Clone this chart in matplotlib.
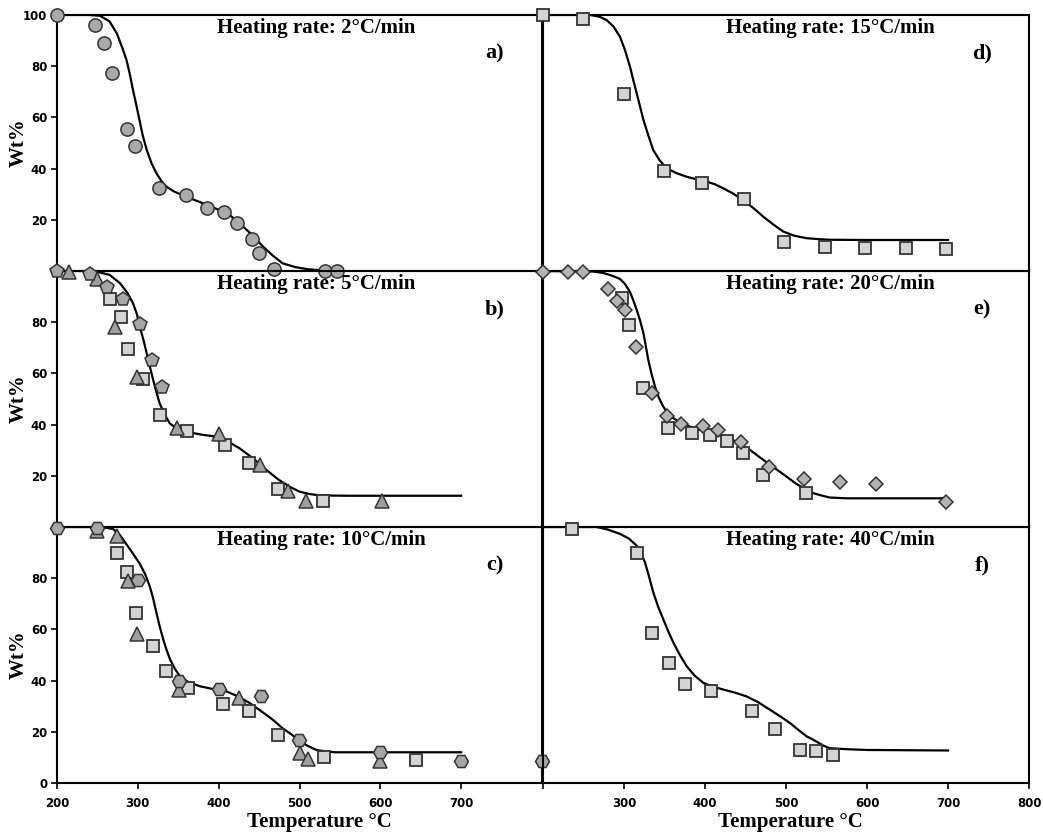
import matplotlib
matplotlib.use("Agg")
import matplotlib.pyplot as plt

# ---- a) 2 C/min ----
a_circ_x = [200, 247, 258, 268, 286, 297, 326, 360, 386, 406, 423, 441, 450, 469, 531, 546]
a_circ_y = [100, 96, 89, 77.5, 55.5, 49, 32.3, 29.8, 24.7, 23.2, 18.9, 12.6, 6.9, 0.9, 0, 0]
a_fit_x = [200, 240, 253, 265, 274, 281, 286, 290, 294, 298, 302, 306, 311, 317, 323, 329, 335, 345,
           360, 380, 401, 415, 426, 440, 455, 467, 479, 495, 510, 521, 535]
a_fit_y = [100, 100, 99.7, 97.5, 92.8, 87, 82.4, 77, 70.7, 65, 59, 53, 47.3, 42, 38.2, 35.2, 33, 31,
           29, 26.5, 23.8, 21.5, 18.6, 14.5, 9.5, 6, 3, 1.5, 0.7, 0.4, 0.2]

# ---- b) 5 C/min ----
b_pent_x = [200, 241, 262, 282, 303, 318, 330.5]
b_pent_y = [100, 98.8, 93.9, 88.9, 79.2, 65.2, 54.8]
b_tri_x = [215, 250, 271.6, 299, 348.5, 400, 450.6, 486, 508, 602]
b_tri_y = [99.7, 96.7, 78.2, 58.7, 38.5, 36.3, 24.2, 14.2, 10.3, 10.3]
b_sq_x = [265, 278.6, 288, 306.5, 328, 361, 408, 437, 473, 529.6]
b_sq_y = [88.9, 81.9, 69.5, 57.7, 43.9, 37.6, 32, 24.9, 14.7, 10.3]
b_fit_x = [200, 245, 265, 278, 287, 294, 299, 302.5, 307, 311, 315, 319, 323, 327, 333, 339.5, 348,
           360, 380, 397, 412, 426, 443, 459, 474, 488, 500, 512, 521, 535, 560, 600, 700]
b_fit_y = [100, 100, 98.5, 95.2, 91.5, 87.4, 83, 78.2, 73, 67.8, 62.5, 57.4, 52.7, 48.3, 44, 40.5, 38.5,
           37.2, 36, 35.3, 33.3, 30.7, 26.7, 22.3, 18.5, 15.7, 13.8, 12.9, 12.5, 12.3, 12.2, 12.2, 12.2]

# ---- c) 10 C/min ----
c_hex_x = [200, 250, 300, 350.6, 400, 452, 499, 600, 700, 800]
c_hex_y = [99.5, 99.5, 79.2, 39.7, 36.9, 33.8, 16.9, 12.3, 8.7, 8.7]
c_tri_x = [250, 274, 288, 299, 350.6, 425, 500, 510, 600]
c_tri_y = [98.5, 96.6, 79, 58.3, 36.2, 33.2, 11.6, 9.3, 8.7]
c_sq_x = [274.5, 287, 297.5, 319, 335, 362, 405, 438, 473, 530, 644]
c_sq_y = [89.7, 82.6, 66.5, 53.5, 43.9, 37.1, 30.9, 28.2, 18.8, 10.1, 9]
c_fit_x = [200, 255, 269.5, 278, 286, 294, 302.5, 309, 315, 319, 323, 327, 331.5, 335.5, 340, 346, 352,
           362, 376.5, 393, 409.5, 424, 438, 452, 467, 479, 490, 500, 510, 521, 533, 545, 600, 700]
c_fit_y = [100, 100, 99.2, 96.8, 93.2, 89.6, 85.6, 81.6, 76.6, 72, 66.5, 61.2, 56, 52, 48.2, 44.5, 41.7,
           39.5, 37.8, 36.7, 35.8, 33.8, 31.3, 28.2, 24.7, 21.4, 19, 16.5, 14.5, 12.9, 12.3, 12, 12, 12]

# ---- d) 15 C/min ----
d_sq_x = [200, 249, 300, 349.4, 396, 447.8, 497.5, 548, 597.5, 648, 698]
d_sq_y = [100, 98.6, 69, 39, 34.5, 28, 11.2, 9.3, 8.9, 8.9, 8.5]
d_fit_x = [200, 258, 270, 278.6, 287, 295, 301, 307.4, 311.5, 315.7, 320, 324, 330, 336, 344, 352.7,
           365, 377.4, 390, 402, 412, 422.6, 435, 447, 460, 472, 485, 496.7, 510, 525.6, 542, 554, 600, 700]
d_fit_y = [100, 100, 99.3, 98, 95.5, 91.5, 86.5, 79.8, 74.5, 69.4, 64, 59, 53, 47.3, 43.2, 40.1,
           38.2, 36.8, 35.8, 34.9, 33.9, 32.3, 30.2, 27.7, 24.5, 21.2, 18, 15.4, 13.8, 12.8, 12.4, 12.2, 12.1, 12.1]

# ---- e) 20 C/min ----
e_dia_x = [200, 230.5, 249, 280.6, 291.7, 301, 314.8, 335, 352.7, 370.4, 398, 415.7, 444.5, 479.4,
           522.6, 566.7, 610.7, 697]
e_dia_y = [99.5, 99.5, 99.5, 92.8, 88.4, 84.8, 70.4, 52.2, 43.4, 40.1, 39.5, 37.9, 33.1, 23.6,
           18.6, 17.7, 16.8, 9.6]
e_sq_x = [297, 306, 323.8, 354, 384.3, 406, 426.8, 447.3, 472, 524.3]
e_sq_y = [89.6, 78.9, 54.2, 38.8, 36.8, 35.9, 33.6, 28.8, 20.3, 13.2]
e_fit_x = [200, 262, 274.5, 285, 295, 301, 307.4, 311.5, 315.7, 320, 324, 327, 330, 334, 338.3, 343,
           348.5, 354, 361, 370, 381.5, 395, 410, 425, 439, 456, 472, 487, 501, 513, 525.6, 533.7,
           545, 554, 575, 700]
e_fit_y = [100, 99.8, 99.2, 98.2, 96.9, 95, 91.8, 88.5, 84.8, 80.5, 75.7, 70.5, 65.2, 59.8, 54.8, 50.5,
           47, 44.5, 42.5, 40.7, 39.2, 37.8, 36.6, 35.1, 33.3, 30, 26.2, 22.8, 19.6, 16.8, 14.5, 13.2,
           12.2, 11.5, 11.2, 11.2]

# ---- f) 40 C/min ----
f_sq_x = [235.4, 315.7, 335, 356, 375.3, 407.4, 457.6, 486.4, 517.3, 537, 557.6]
f_sq_y = [99.2, 89.7, 58.7, 46.9, 38.7, 36.1, 28.2, 21.2, 12.9, 12.5, 11]
f_fit_x = [200, 266, 280, 295, 306, 315.7, 321, 326, 331, 336.2, 342, 348.5, 355, 361, 369, 377.4,
           387, 398, 410, 422.6, 437, 451.5, 466, 480.2, 493, 505, 515, 525.6, 533.7, 546, 554, 575,
           600, 700]
f_fit_y = [100, 100, 99, 97.3, 95.5, 92.7, 89.8, 86.1, 80.5, 74.4, 69, 63.9, 59, 54.8, 50, 45.6,
           42, 39.1, 37.6, 36.5, 35.3, 33.8, 31.5, 28.6, 26, 23.4, 20.8, 18.2, 16.9, 14.6, 13.6, 13.2,
           12.9, 12.7]

titles = ["Heating rate: 2°C/min", "Heating rate: 5°C/min", "Heating rate: 10°C/min",
          "Heating rate: 15°C/min", "Heating rate: 20°C/min", "Heating rate: 40°C/min"]
letters = ["a)", "b)", "c)", "d)", "e)", "f)"]

serif = "Liberation Serif"
edge = "#333333"
circ = dict(marker="o", ms=9.5, mfc="#aaaaaa", mec=edge, mew=1.1)
pent = dict(marker="p", ms=10, mfc="#a6a6a6", mec=edge, mew=1.1)
hexa = dict(marker="H", ms=10, mfc="#a6a6a6", mec=edge, mew=1.1)
tri = dict(marker="^", ms=9.5, mfc="#a0a0a0", mec=edge, mew=1.1)
sq = dict(marker="s", ms=8.5, mfc="#d4d4d4", mec=edge, mew=1.3)
dia = dict(marker="D", ms=7, mfc="#b4b4b4", mec=edge, mew=1.1)

fig = plt.figure(figsize=(10.43, 8.32), dpi=100)
fig.patch.set_facecolor("white")

lefts = [57 / 1043, 543 / 1043]
widths = [485 / 1043, 486 / 1043]
bottoms = [0.6743, 0.3666, 0.0589]
h = 0.3077

axes = []
for col in range(2):
    for row in range(3):
        ax = fig.add_axes([lefts[col], bottoms[row], widths[col], h])
        ax.set_facecolor("none")
        ax.set_xlim(200, 800)
        ax.set_ylim(0, 100)
        for s in ax.spines.values():
            s.set_linewidth(1.5)
        ax.tick_params(direction="out", length=4, width=1.2, labelsize=8.5, pad=3)
        axes.append(ax)

ax_a, ax_b, ax_c, ax_d, ax_e, ax_f = axes

def pts(ax, x, y, st):
    ax.plot(x, y, ls="none", clip_on=False, zorder=5, **st)

def fit(ax, x, y):
    ax.plot(x, y, color="black", lw=1.6, zorder=3)

fit(ax_a, a_fit_x, a_fit_y)
pts(ax_a, a_circ_x, a_circ_y, circ)

fit(ax_b, b_fit_x, b_fit_y)
pts(ax_b, b_sq_x, b_sq_y, sq)
pts(ax_b, b_tri_x, b_tri_y, tri)
pts(ax_b, b_pent_x, b_pent_y, pent)

fit(ax_c, c_fit_x, c_fit_y)
pts(ax_c, c_sq_x, c_sq_y, sq)
pts(ax_c, c_tri_x, c_tri_y, tri)
pts(ax_c, c_hex_x, c_hex_y, hexa)

fit(ax_d, d_fit_x, d_fit_y)
pts(ax_d, d_sq_x, d_sq_y, sq)

fit(ax_e, e_fit_x, e_fit_y)
pts(ax_e, e_sq_x, e_sq_y, sq)
pts(ax_e, e_dia_x, e_dia_y, dia)

fit(ax_f, f_fit_x, f_fit_y)
pts(ax_f, f_sq_x, f_sq_y, sq)

# ticks and text
yt = {0: [20, 40, 60, 80, 100], 1: [20, 40, 60, 80], 2: [0, 20, 40, 60, 80]}
for i, ax in enumerate(axes):
    col, row = divmod(i, 3)
    if col == 0:
        ax.set_yticks(yt[row])
        ax.set_yticklabels([str(v) for v in yt[row]], fontweight="bold", fontsize=8.5)
    else:
        ax.set_yticks([])
    if row == 2:
        xt = [200, 300, 400, 500, 600, 700] if col == 0 else [200, 300, 400, 500, 600, 700, 800]
        ax.set_xticks(xt)
        labs = [str(v) for v in xt]
        if col == 1:
            labs[0] = ""
        ax.set_xticklabels(labs, fontweight="bold", fontsize=8.5)
        ax.tick_params(axis="x", pad=6)
    else:
        ax.set_xticks([])

    tx = 0.33 if col == 0 else 0.377
    ax.text(tx, 0.95, titles[i], transform=ax.transAxes, ha="left", va="center",
            fontsize=15, fontweight="bold", family=serif, zorder=6)
    ax.text(0.903, 0.85, letters[i], transform=ax.transAxes, ha="center", va="center",
            fontsize=16, fontweight="bold", family=serif)
    if col == 0:
        ax.text(-0.078, 0.5, "Wt%", transform=ax.transAxes, rotation=90, ha="center",
                va="center", fontsize=15, fontweight="bold", family=serif)
    if row == 2:
        ax.text(0.54 if col == 0 else 0.51, -0.152, "Temperature °C", transform=ax.transAxes,
                ha="center", va="center", fontsize=15, fontweight="bold", family=serif)

fig.savefig("out.png", dpi=100, facecolor="white")
